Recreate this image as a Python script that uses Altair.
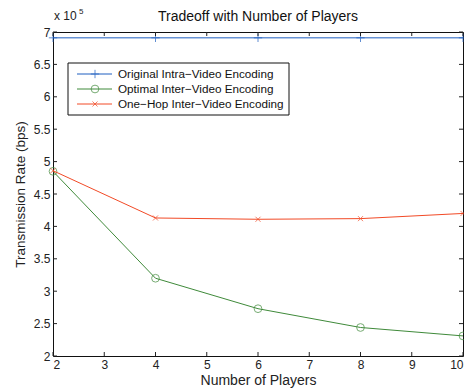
import altair as alt
import pandas as pd

players = [2, 4, 6, 8, 10]
original = [6.91, 6.91, 6.91, 6.91, 6.91]
optimal = [4.85, 3.20, 2.73, 2.44, 2.31]
onehop = [4.86, 4.13, 4.11, 4.12, 4.20]
series_names = ["Original Intra\u2212Video Encoding", "Optimal Inter\u2212Video Encoding", "One\u2212Hop Inter\u2212Video Encoding"]
colors = ["#1f5fc0", "#3f8a3a", "#f24a26"]
y_ticks = [2, 2.5, 3, 3.5, 4, 4.5, 5, 5.5, 6, 6.5, 7]
x_ticks = [2, 3, 4, 5, 6, 7, 8, 9, 10]
title_text = "Tradeoff with Number of Players"
x_title = "Number of Players"
y_title = "Transmission Rate (bps)"

W, H = 410, 324
FONT = "Liberation Sans"

PLUS = "M-1,0L1,0M0,-1L0,1"
XSH = "M-0.8,-0.8L0.8,0.8M-0.8,0.8L0.8,-0.8"
shapes = [PLUS, "circle", XSH]
sizes = [70, 60, 40]

rows = []
for name, vals in zip(series_names, [original, optimal, onehop]):
    for p, v in zip(players, vals):
        rows.append({"players": p, "rate": v, "series": name})
df = pd.DataFrame(rows)

xs = alt.Scale(domain=[2, 10], nice=False, zero=False)
ys = alt.Scale(domain=[2, 7], nice=False, zero=False)

xax = alt.Axis(values=x_ticks, tickSize=0, labelPadding=3, domain=False, grid=False, labelOverlap=False,
               labelFont=FONT, labelFontSize=12, labelColor="#222",
               titleFont=FONT, titleFontSize=14, titleFontWeight="normal", titleColor="#222", titlePadding=3)
yax = alt.Axis(values=y_ticks, tickSize=0, labelPadding=3, domain=False, grid=False, format="~g", labelOverlap=False,
               labelFont=FONT, labelFontSize=12, labelColor="#222",
               titleFont=FONT, titleFontSize=13.5, titleFontWeight="normal", titleColor="#222", titlePadding=6)


def X(field):
    return alt.X(field, scale=xs, axis=xax, title=x_title)


def Y(field):
    return alt.Y(field, scale=ys, axis=yax, title=y_title)


layers = []
for i, name in enumerate(series_names):
    d = df[df.series == name]
    base = alt.Chart(d)
    line = base.mark_line(color=colors[i], strokeWidth=1).encode(x=X("players:Q"), y=Y("rate:Q"))
    pts = base.mark_point(shape=shapes[i], size=sizes[i], filled=False, color=colors[i],
                          strokeWidth=1, clip=False).encode(x=X("players:Q"), y=Y("rate:Q"))
    layers += [line, pts]

ydf = pd.DataFrame({"rate": y_ticks})
xdf = pd.DataFrame({"players": x_ticks})
tick_color = "#222"
yl = alt.Chart(ydf).mark_rule(color=tick_color, strokeWidth=1).encode(
    y=Y("rate:Q"), x=alt.value(0), x2=alt.value(4))
yr = alt.Chart(ydf).mark_rule(color=tick_color, strokeWidth=1).encode(
    y=Y("rate:Q"), x=alt.value(W - 4), x2=alt.value(W))
xb = alt.Chart(xdf).mark_rule(color=tick_color, strokeWidth=1).encode(
    x=X("players:Q"), y=alt.value(H - 4), y2=alt.value(H))
xt = alt.Chart(xdf).mark_rule(color=tick_color, strokeWidth=1).encode(
    x=X("players:Q"), y=alt.value(0), y2=alt.value(4))

# legend box
leg_box = alt.Chart(pd.DataFrame({"a": [0]})).mark_rect(fill="white", stroke="#111", strokeWidth=1).encode(
    x=alt.value(15), x2=alt.value(236), y=alt.value(31), y2=alt.value(83))
leg = [leg_box]
for i, name in enumerate(series_names):
    yy = 42 + 15 * i
    one = pd.DataFrame({"label": [name]})
    leg.append(alt.Chart(one).mark_rule(color=colors[i], strokeWidth=1).encode(
        x=alt.value(24), x2=alt.value(59), y=alt.value(yy)))
    leg.append(alt.Chart(one).mark_point(shape=shapes[i], size=sizes[i], filled=False, color=colors[i],
                                         strokeWidth=1).encode(x=alt.value(42), y=alt.value(yy)))
    leg.append(alt.Chart(one).mark_text(align="left", baseline="middle", font=FONT, fontSize=11.7, color="#111").encode(
        x=alt.value(65), y=alt.value(yy), text="label:N"))

exp_txt = alt.Chart(pd.DataFrame({"t": ["x 10"]})).mark_text(
    align="left", baseline="bottom", font=FONT, fontSize=12, color="#222").encode(
    x=alt.value(1), y=alt.value(-9), text="t:N")
exp_sup = alt.Chart(pd.DataFrame({"t": ["5"]})).mark_text(
    align="left", baseline="bottom", font=FONT, fontSize=8, color="#222").encode(
    x=alt.value(26), y=alt.value(-16), text="t:N")
title_mark = alt.Chart(pd.DataFrame({"t": [title_text]})).mark_text(
    align="center", baseline="bottom", font=FONT, fontSize=14, color="#111").encode(
    x=alt.value(W / 2), y=alt.value(-8), text="t:N")

chart = alt.layer(*layers, yl, yr, xb, xt, *leg, exp_txt, exp_sup, title_mark).properties(
    width=W, height=H,
    autosize=alt.AutoSizeParams(type="none"),
    padding={"left": 45, "top": 24, "right": 1, "bottom": 34},
).configure_view(stroke="#111", strokeWidth=1)

chart.save("out.html", embed_options={"renderer": "svg", "actions": False})
